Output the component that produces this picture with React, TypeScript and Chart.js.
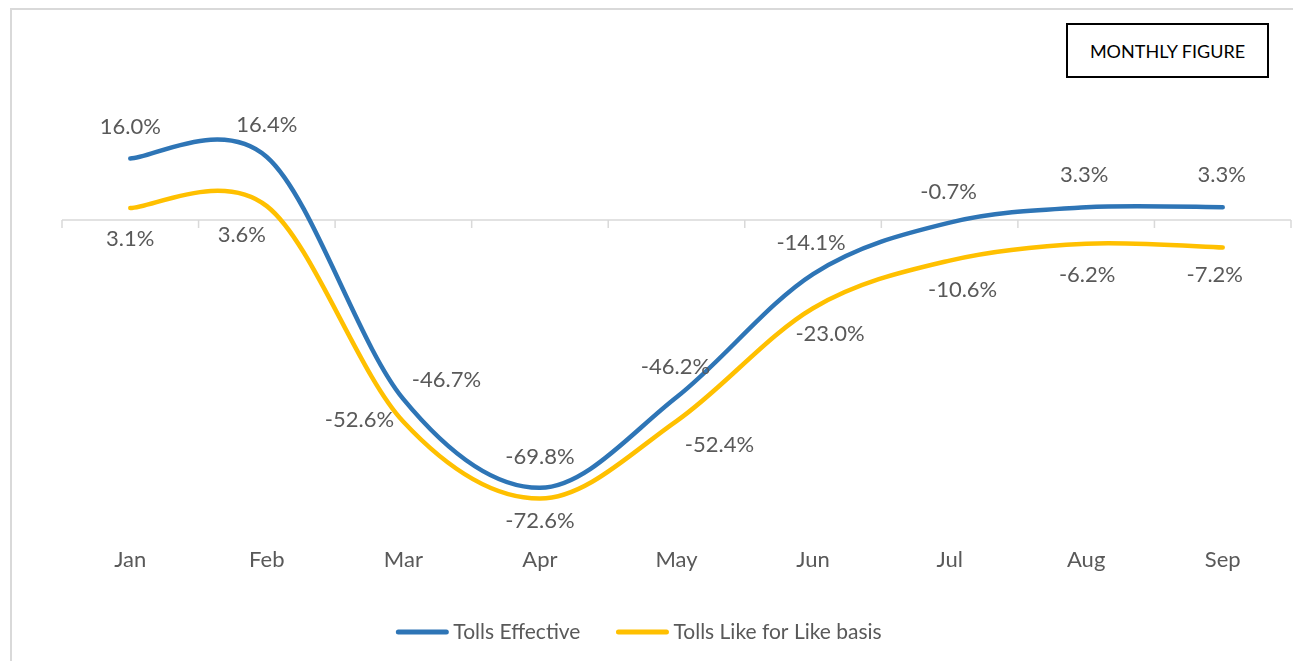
import React, { useEffect, useRef } from "react";
import { Chart, registerables } from "chart.js";

Chart.register(...registerables);

// ---- data ----
const months = ["Jan", "Feb", "Mar", "Apr", "May", "Jun", "Jul", "Aug", "Sep"];
const tollsEffective = [16.0, 16.4, -46.7, -69.8, -46.2, -14.1, -0.7, 3.3, 3.3];
const tollsLikeForLike = [3.1, 3.6, -52.6, -72.6, -52.4, -23.0, -10.6, -6.2, -7.2];
const seriesNames = ["Tolls Effective", "Tolls Like for Like basis"];
const figureTitle = "MONTHLY FIGURE";

// ---- styles ----
const seriesColors = ["#2E75B6", "#FFC000"];
const FONT = "Lato, 'Open Sans', sans-serif";
const TEXT_COLOR = "#595959";
// data-label offsets from each point, in pixels [dx, dy]
const effectiveLabelOffsets = [[0, -32], [0, -32], [43, -19], [0, -31], [-1, -30], [-2, -31], [-1, -31], [-2, -32], [-1, -32]];
const likeLabelOffsets = [[0, 31], [-25, 29], [-44, -2], [0, 22], [43, 24], [17, 26], [13, 29], [1, 31], [-8, 27]];
const labelOffsets = [effectiveLabelOffsets, likeLabelOffsets];

// Excel-like smoothing: uniform Catmull-Rom control points (1/6 of neighbour span)
const smoothPlugin = {
  id: "excelSmooth",
  beforeDatasetDraw(chart: any, args: any) {
    const meta = args.meta;
    const pts = meta.data;
    const n = pts.length;
    for (let i = 0; i < n; i++) {
      const p = pts[i];
      const prev = pts[Math.max(0, i - 1)];
      const next = pts[Math.min(n - 1, i + 1)];
      const dx = (next.x - prev.x) / 6;
      const dy = (next.y - prev.y) / 6;
      p.cp1x = p.x - dx;
      p.cp1y = p.y - dy;
      p.cp2x = p.x + dx;
      p.cp2y = p.y + dy;
    }
    if (meta.dataset) {
      meta.dataset._pointsUpdated = true;
      meta.dataset._path = undefined;
    }
  },
};

const zeroAxisPlugin = {
  id: "zeroAxis",
  beforeDatasetsDraw(chart: any) {
    const { ctx, chartArea, scales } = chart;
    const y0 = scales.y.getPixelForValue(0);
    const xs = scales.x;
    const step = xs.getPixelForValue(1) - xs.getPixelForValue(0);
    ctx.save();
    ctx.strokeStyle = "#D9D9D9";
    ctx.lineWidth = 1.5;
    ctx.beginPath();
    ctx.moveTo(chartArea.left, y0);
    ctx.lineTo(chartArea.right, y0);
    for (let i = 0; i <= months.length; i++) {
      const px = xs.getPixelForValue(0) - step / 2 + i * step;
      ctx.moveTo(px, y0);
      ctx.lineTo(px, y0 + 8);
    }
    ctx.stroke();
    ctx.restore();
  },
};

const dataLabelPlugin = {
  id: "dataLabels",
  afterDatasetsDraw(chart: any) {
    const { ctx } = chart;
    ctx.save();
    ctx.font = `22px ${FONT}`;
    ctx.fillStyle = TEXT_COLOR;
    ctx.textAlign = "center";
    ctx.textBaseline = "middle";
    chart.data.datasets.forEach((ds: any, di: number) => {
      const meta = chart.getDatasetMeta(di);
      meta.data.forEach((el: any, i: number) => {
        const v = ds.data[i] as number;
        const off = labelOffsets[di][i];
        ctx.fillText(`${v.toFixed(1)}%`, el.x + off[0], el.y + off[1]);
      });
    });
    ctx.restore();
  },
};

const legendPlugin = {
  id: "bottomLegend",
  afterDraw(chart: any) {
    const { ctx } = chart;
    const y = 632;
    const lineW = 52;
    const gap = 5;
    const spacing = 36;
    ctx.save();
    ctx.font = `21px ${FONT}`;
    const widths = chart.data.datasets.map((ds: any) => ctx.measureText(ds.label).width);
    const total = widths.reduce((a: number, w: number) => a + lineW + gap + w, 0) + spacing * (widths.length - 1);
    let x = 639 - total / 2;
    chart.data.datasets.forEach((ds: any, i: number) => {
      ctx.strokeStyle = ds.borderColor;
      ctx.lineWidth = 5;
      ctx.lineCap = "round";
      ctx.beginPath();
      ctx.moveTo(x + 2, y);
      ctx.lineTo(x + lineW - 2, y);
      ctx.stroke();
      ctx.fillStyle = TEXT_COLOR;
      ctx.textAlign = "left";
      ctx.textBaseline = "middle";
      ctx.fillText(ds.label, x + lineW + gap, y);
      x += lineW + gap + widths[i] + spacing;
    });
    ctx.restore();
  },
};

export default function App() {
  const canvasRef = useRef<HTMLCanvasElement | null>(null);

  useEffect(() => {
    if (!canvasRef.current) return;
    const chart = new Chart(canvasRef.current, {
      type: "line",
      data: {
        labels: months,
        datasets: [
          {
            label: seriesNames[0],
            data: tollsEffective,
            borderColor: seriesColors[0],
            backgroundColor: seriesColors[0],
            borderWidth: 4.5,
            tension: 0.5,
            pointRadius: 0,
            borderCapStyle: "round",
            fill: false,
          },
          {
            label: seriesNames[1],
            data: tollsLikeForLike,
            borderColor: seriesColors[1],
            backgroundColor: seriesColors[1],
            borderWidth: 4.5,
            tension: 0.5,
            pointRadius: 0,
            borderCapStyle: "round",
            fill: false,
          },
        ],
      },
      options: {
        animation: false,
        responsive: false,
        layout: { padding: { left: 62, right: 2, top: 28, bottom: 84 } },
        plugins: { legend: { display: false }, tooltip: { enabled: false } },
        scales: {
          x: {
            offset: true,
            grid: { display: false, drawTicks: false },
            border: { display: false },
            ticks: { color: TEXT_COLOR, font: { family: FONT, size: 22 }, padding: 20 },
            afterFit: (s: any) => {
              s.height = 50;
            },
          },
          y: { display: false, min: -80, max: 50 },
        },
      },
      plugins: [smoothPlugin, zeroAxisPlugin, dataLabelPlugin, legendPlugin],
    });
    return () => chart.destroy();
  }, []);

  return (
    <div style={{ position: "absolute", left: 0, top: 0, width: 1293, height: 661, overflow: "hidden", background: "#fff" }}>
      <div
        style={{
          position: "absolute",
          left: 10,
          top: 8,
          width: 1320,
          height: 700,
          border: "2px solid #D9D9D9",
        }}
      />
      <canvas ref={canvasRef} width={1293} height={661} style={{ position: "absolute", left: 0, top: 0 }} />
      <div
        style={{
          position: "absolute",
          left: 1066,
          top: 23,
          width: 203,
          height: 55,
          boxSizing: "border-box",
          border: "2px solid #000",
          display: "flex",
          alignItems: "center",
          justifyContent: "center",
          fontFamily: FONT,
          fontSize: 18,
          color: "#000",
          background: "#fff",
        }}
      >
        {figureTitle}
      </div>
    </div>
  );
}
